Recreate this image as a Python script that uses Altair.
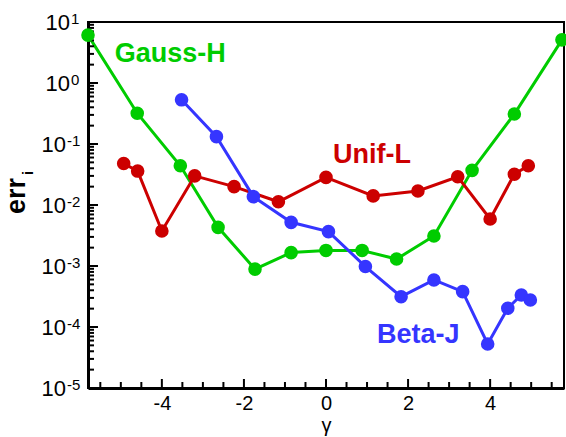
import altair as alt
import pandas as pd

# Error curves err_i versus gamma for three distributions
gauss_x = [-5.8, -4.6, -3.55, -2.63, -1.73, -0.85, 0.0, 0.88, 1.72, 2.63, 3.56, 4.59, 5.75]
gauss_y = [6.1, 0.32, 0.044, 0.0043, 0.00089, 0.00166, 0.0018, 0.0018, 0.0013, 0.0031, 0.037, 0.31, 5.1]

unif_x = [-4.93, -4.59, -4.0, -3.2, -2.24, -1.16, 0.0, 1.15, 2.24, 3.21, 4.0, 4.59, 4.93]
unif_y = [0.048, 0.036, 0.00375, 0.030, 0.020, 0.0113, 0.0284, 0.0141, 0.017, 0.029, 0.0059, 0.032, 0.044]

beta_x = [-3.52, -2.67, -1.77, -0.85, 0.06, 0.96, 1.83, 2.63, 3.33, 3.94, 4.43, 4.76, 4.98]
beta_y = [0.53, 0.132, 0.0137, 0.0052, 0.00366, 0.00098, 0.000314, 0.00059, 0.00038,
          0.0000526, 0.000203, 0.000335, 0.000277]

series_names = ["Unif-L", "Beta-J", "Gauss-H"]
series_colors = ["#cc0000", "#3535ff", "#00cc00"]

# Curve labels placed in data coordinates
label_text = ["Gauss-H", "Unif-L", "Beta-J"]
label_x = [-5.15, 0.17, 1.24]
label_y = [2.2, 0.049, 0.000055]

x_major = [-4, -2, 0, 2, 4]
x_minor = [-5.5, -5, -4.5, -3.5, -3, -2.5, -1.5, -1, -0.5, 0.5, 1, 1.5, 2.5, 3, 3.5, 4.5, 5, 5.5]
y_exponents = [-5, -4, -3, -2, -1, 0, 1]

FONT = "Liberation Sans"

rows = []
for name, xs, ys in [("Gauss-H", gauss_x, gauss_y), ("Unif-L", unif_x, unif_y), ("Beta-J", beta_x, beta_y)]:
    for i, (a, b) in enumerate(zip(xs, ys)):
        rows.append({"series": name, "idx": i, "gamma": a, "err": b})
df = pd.DataFrame(rows)

labels_df = pd.DataFrame({"text": label_text, "gamma": label_x, "err": label_y})

y_major_vals = [10.0 ** e for e in y_exponents]
y_minor_vals = [k * 10.0 ** e for e in y_exponents[:-1] for k in range(2, 10)]
ymaj_df = pd.DataFrame({"v": y_major_vals, "exp": [str(e) for e in y_exponents]})
ymin_df = pd.DataFrame({"v": y_minor_vals})
xmaj_df = pd.DataFrame({"v": x_major})
xmin_df = pd.DataFrame({"v": x_minor})

xscale = alt.Scale(domain=[-5.8, 5.8], nice=False, zero=False)
yscale = alt.Scale(type="log", domain=[1e-5, 10], nice=False)
cscale = alt.Scale(domain=series_names, range=series_colors)

H = 366

base = alt.Chart(df)

lines = base.mark_line(strokeWidth=3).encode(
    x=alt.X("gamma:Q", scale=xscale,
            axis=alt.Axis(values=x_major, ticks=False, grid=False, domain=True,
                          domainWidth=3, domainColor="black",
                          labelExpr="'' + datum.value", labelFont=FONT, labelFontSize=20,
                          labelColor="black", labelPadding=5,
                          title="γ", titleFont=FONT, titleFontSize=20,
                          titleFontWeight="normal", titleColor="black",
                          titleBaseline="top", titleY=27)),
    y=alt.Y("err:Q", scale=yscale,
            axis=alt.Axis(labels=False, ticks=False, grid=False, domain=True,
                          domainWidth=3, domainColor="black", title=None)),
    color=alt.Color("series:N", scale=cscale, legend=None),
    order="idx:Q",
)

points = base.mark_circle(size=185, opacity=1).encode(
    x=alt.X("gamma:Q", scale=xscale),
    y=alt.Y("err:Q", scale=yscale),
    color=alt.Color("series:N", scale=cscale, legend=None),
)

curve_labels = alt.Chart(labels_df).mark_text(
    align="left", baseline="alphabetic", font=FONT, fontSize=27, fontWeight="bold"
).encode(
    x=alt.X("gamma:Q", scale=xscale),
    y=alt.Y("err:Q", scale=yscale),
    text="text:N",
    color=alt.Color("text:N", scale=cscale, legend=None),
)

# Inward-pointing tick marks
ytick_major = alt.Chart(ymaj_df).mark_rule(color="black", strokeWidth=2).encode(
    y=alt.Y("v:Q", scale=yscale), x=alt.value(0), x2=alt.value(10)
)
ytick_minor = alt.Chart(ymin_df).mark_rule(color="black", strokeWidth=2).encode(
    y=alt.Y("v:Q", scale=yscale), x=alt.value(0), x2=alt.value(6)
)
xtick_major = alt.Chart(xmaj_df).mark_rule(color="black", strokeWidth=2).encode(
    x=alt.X("v:Q", scale=xscale), y=alt.value(H), y2=alt.value(H - 9)
)
xtick_minor = alt.Chart(xmin_df).mark_rule(color="black", strokeWidth=2).encode(
    x=alt.X("v:Q", scale=xscale), y=alt.value(H), y2=alt.value(H - 6)
)

# Log-axis labels written as 10 with a raised exponent
ylab = alt.Chart(ymaj_df).transform_calculate(neg="toNumber(datum.exp) < 0")
ten_neg = ylab.transform_filter("datum.neg").mark_text(
    align="right", baseline="middle", font=FONT, fontSize=22, dy=1, color="black"
).encode(y=alt.Y("v:Q", scale=yscale), x=alt.value(-22), text=alt.value("10"))
ten_pos = ylab.transform_filter("!datum.neg").mark_text(
    align="right", baseline="middle", font=FONT, fontSize=22, dy=1, color="black"
).encode(y=alt.Y("v:Q", scale=yscale), x=alt.value(-18), text=alt.value("10"))
exp_neg = ylab.transform_filter("datum.neg").mark_text(
    align="left", baseline="top", font=FONT, fontSize=15, dy=-10, color="black"
).encode(y=alt.Y("v:Q", scale=yscale), x=alt.value(-21), text="exp:N")
exp_pos = ylab.transform_filter("!datum.neg").mark_text(
    align="left", baseline="top", font=FONT, fontSize=15, dy=-10, color="black"
).encode(y=alt.Y("v:Q", scale=yscale), x=alt.value(-17), text="exp:N")

# Y-axis title err with subscript i
ytitle = alt.Chart(pd.DataFrame({"t": ["err"]})).mark_text(
    angle=270, align="center", baseline="alphabetic", font=FONT, fontSize=27,
    fontWeight="bold", color="black"
).encode(x=alt.value(-63), y=alt.value(174), text="t:N")
ysub = alt.Chart(pd.DataFrame({"t": ["i"]})).mark_text(
    angle=270, align="center", baseline="alphabetic", font=FONT, fontSize=15,
    fontWeight="bold", color="black"
).encode(x=alt.value(-55), y=alt.value(151), text="t:N")

chart = alt.layer(
    lines, ytick_major, ytick_minor, xtick_major, xtick_minor,
    points, curve_labels, ten_neg, ten_pos, exp_neg, exp_pos, ytitle, ysub,
).properties(
    width=476,
    height=H,
    padding={"left": 88, "top": 22, "right": 2, "bottom": 49},
    autosize=alt.AutoSizeParams(type="none"),
    background="white",
).configure_view(stroke="black", strokeWidth=2)

chart.save("out.html", embed_options={"renderer": "svg", "actions": False})
